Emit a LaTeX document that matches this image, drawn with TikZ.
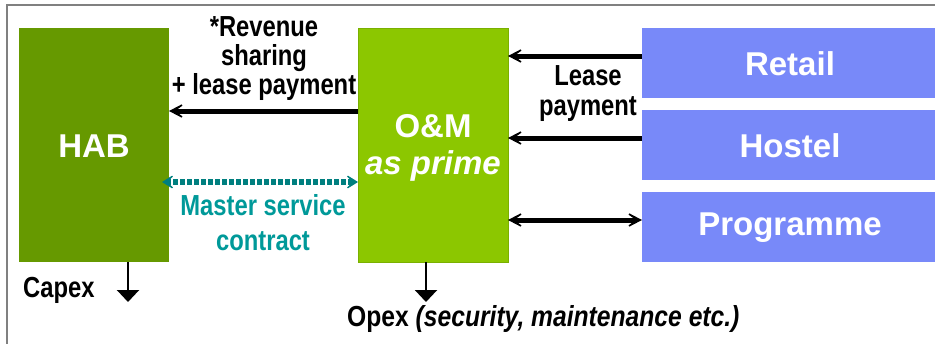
\documentclass[tikz,border=0pt]{standalone}
\usepackage{fontspec}
\setmainfont{Liberation Sans}
\newfontfamily\narrow{Liberation Sans}[FakeStretch=0.82]
\newfontfamily\narrowwide{Liberation Sans}[FakeStretch=0.85]
\usetikzlibrary{arrows.meta}
\definecolor{habgreen}{HTML}{669900}
\definecolor{omgreen}{HTML}{8CC700}
\definecolor{omedge}{HTML}{7AB000}
\definecolor{partblue}{HTML}{7889F9}
\definecolor{tealarrow}{HTML}{007F7F}
\definecolor{tealtext}{HTML}{009999}
\definecolor{framegray}{HTML}{808080}
\tikzset{
  box/.style={anchor=north west, inner sep=0pt, outer sep=0pt},
  boxtext/.style={text=white, font=\fontsize{33}{36}\selectfont\bfseries},
  blabel/.style={font=\narrow\fontsize{29}{30}\selectfont\bfseries, align=center, inner sep=0pt},
  flow/.style={line width=5pt, -{Stealth[length=22pt,width=23pt,inset=16pt]}},
  biflow/.style={line width=5pt, {Stealth[length=22pt,width=23pt,inset=16pt]}-{Stealth[length=22pt,width=23pt,inset=16pt]}},
  cost/.style={line width=2.2pt, -{Triangle[length=12pt,width=22pt]}},
  msc/.style={line width=5.5pt, tealarrow, dash pattern=on 4.5pt off 2.5pt, {Stealth[length=16pt,width=20pt,inset=11pt]}-{Stealth[length=16pt,width=20pt,inset=11pt]}}
}
\begin{document}
\begin{tikzpicture}[x=1pt,y=-1pt]
\useasboundingbox (0,0) rectangle (935,343);
\begin{scope}
\clip (0,0) rectangle (935,343);
\draw[framegray, line width=2pt] (6.5,5) rectangle (945,360);
\end{scope}
% boxes
\node[box, fill=habgreen, minimum width=150pt, minimum height=234pt] (hab) at (19,28) {};
\node[boxtext] (habt) at (94,146) {HAB};
\node[box, fill=omgreen, draw=omedge, line width=1pt, minimum width=150pt, minimum height=234pt] (om) at (358,28) {};
\node[boxtext] (omt) at (433,126) {O\&M};
\node[boxtext, font=\fontsize{33}{36}\selectfont\bfseries\itshape] (omp) at (433,166) {as prime};
\node[box, fill=partblue, minimum width=300pt, minimum height=70pt] (retail) at (642,28) {};
\node[boxtext] at (790,64) {Retail};
\node[box, fill=partblue, minimum width=300pt, minimum height=70pt] (hostel) at (642,110) {};
\node[boxtext] at (790,146) {Hostel};
\node[box, fill=partblue, minimum width=300pt, minimum height=70pt] (prog) at (642,192) {};
\node[boxtext] at (790,228) {Programme};
% connector anchors
\coordinate (omL1) at (358,111);
\coordinate (habR1) at (169,111);
\coordinate (retL) at (642,56);
\coordinate (omR1) at (508,56);
\coordinate (hosL) at (642,138);
\coordinate (omR2) at (508,138);
\coordinate (proL) at (642,220);
\coordinate (omR3) at (508,220);
\coordinate (habR2) at (162,182);
\coordinate (omL2) at (358,182);
\coordinate (habB) at (128,262);
\coordinate (capexEnd) at (128,302);
\coordinate (omB) at (426,262);
\coordinate (opexEnd) at (426,302);
% arrows
\draw[flow] (omL1) -- (habR1);
\draw[flow] (retL) -- (omR1);
\draw[flow] (hosL) -- (omR2);
\draw[biflow] (omR3) -- (proL);
\draw[msc] (habR2) -- (omL2);
\draw[cost] (habB) -- (capexEnd);
\draw[cost] (omB) -- (opexEnd);
% labels
\node[blabel] (rev) at (264,59) {*Revenue\\[-1pt]sharing\\[-1pt]+ lease payment};
\node[blabel] (lease) at (588,94) {Lease\\payment};
\node[blabel, text=tealtext, font=\narrow\fontsize{29}{35}\selectfont\bfseries] (msct) at (263,223) {Master service\\contract};
\node[blabel, anchor=west] (capex) at (23,290) {Capex};
\node[blabel, anchor=west, font=\narrowwide\fontsize{29}{30}\selectfont\bfseries] (opex) at (347,319) {Opex \itshape(security, maintenance etc.)};
\end{tikzpicture}
\end{document}
